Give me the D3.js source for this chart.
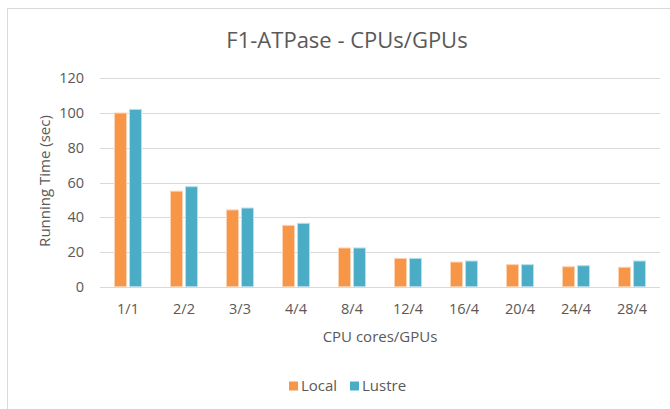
<!DOCTYPE html>
<html>
<head>
<meta charset="utf-8">
<script src="https://cdn.jsdelivr.net/npm/d3@7"></script>
<style>
  body { margin: 0; background: #fff; }
  text { font-family: "Open Sans", "Noto Sans", sans-serif; fill: #595959; }
</style>
</head>
<body>
<svg id="chart" width="670" height="409"></svg>
<script>
// chart data
const categories = ["1/1", "2/2", "3/3", "4/4", "8/4", "12/4", "16/4", "20/4", "24/4", "28/4"];
const localValues = [100, 55, 44.2, 35.3, 22.3, 16.3, 14.2, 12.7, 11.5, 11.2];
const lustreValues = [102.1, 57.6, 45.3, 36.5, 22.3, 16.3, 14.8, 12.7, 12.1, 14.8];
const seriesNames = ["Local", "Lustre"];
const yTicks = [0, 20, 40, 60, 80, 100, 120];

const svg = d3.select("#chart");
const colors = { Local: "#F79646", Lustre: "#4BACC6" };
const edge = { Local: "#fbd2b3", Lustre: "#b8e0ea" };

// outer frame
svg.append("rect")
  .attr("x", 7.5).attr("y", 8.5)
  .attr("width", 670).attr("height", 410)
  .attr("fill", "#fff")
  .attr("stroke", "#d9d9d9");

const plotLeft = 100, plotRight = 660, plotTop = 78.3, plotBottom = 286.7;

const x = d3.scaleBand().domain(categories).range([plotLeft, plotRight]);
const y = d3.scaleLinear().domain([0, 120]).range([plotBottom, plotTop]);

// gridlines
svg.append("g")
  .selectAll("line")
  .data(yTicks)
  .join("line")
  .attr("x1", plotLeft).attr("x2", plotRight)
  .attr("y1", (d) => Math.round(y(d)) + 0.5)
  .attr("y2", (d) => Math.round(y(d)) + 0.5)
  .attr("stroke", "#d9d9d9");

// y axis labels
svg.append("g")
  .selectAll("text")
  .data(yTicks)
  .join("text")
  .attr("x", 84)
  .attr("y", (d) => y(d))
  .attr("dy", "0.35em")
  .attr("text-anchor", "end")
  .attr("font-size", 14.5)
  .text((d) => d);

// bars
const rows = categories.map((c, i) => ({ cat: c, Local: localValues[i], Lustre: lustreValues[i] }));
const barW = 12;

const groups = svg.append("g")
  .selectAll("g")
  .data(rows)
  .join("g")
  .attr("transform", (d) => `translate(${x(d.cat) + x.bandwidth() / 2 - 13.5},0)`);

groups.selectAll("rect")
  .data((d) => seriesNames.map((s) => ({ s, v: d[s] })))
  .join("rect")
  .attr("x", (d) => (d.s === "Local" ? 0 : 15))
  .attr("y", (d) => y(d.v))
  .attr("width", barW)
  .attr("height", (d) => plotBottom - y(d.v))
  .attr("fill", (d) => colors[d.s])
  .attr("stroke", (d) => edge[d.s])
  .attr("stroke-width", 1);

// x axis labels
svg.append("g")
  .selectAll("text")
  .data(categories)
  .join("text")
  .attr("x", (d) => x(d) + x.bandwidth() / 2)
  .attr("y", 309)
  .attr("dy", "0.35em")
  .attr("text-anchor", "middle")
  .attr("font-size", 14.5)
  .text((d) => d);

// titles
svg.append("text")
  .attr("x", 347).attr("y", 40).attr("dy", "0.35em")
  .attr("text-anchor", "middle")
  .attr("font-size", 22)
  .text("F1-ATPase - CPUs/GPUs");

svg.append("text")
  .attr("x", 380).attr("y", 337).attr("dy", "0.35em")
  .attr("text-anchor", "middle")
  .attr("font-size", 15)
  .text("CPU cores/GPUs");

svg.append("text")
  .attr("transform", "translate(45,181) rotate(-90)")
  .attr("dy", "0.35em")
  .attr("text-anchor", "middle")
  .attr("font-size", 15)
  .text("Running Time (sec)");

// legend
const legendX = { Local: 289, Lustre: 350 };
const legend = svg.append("g")
  .selectAll("g")
  .data(seriesNames)
  .join("g")
  .attr("transform", (d) => `translate(${legendX[d]},386)`);

legend.append("rect")
  .attr("x", 0).attr("y", -4.5)
  .attr("width", 9).attr("height", 9)
  .attr("fill", (d) => colors[d]);

legend.append("text")
  .attr("x", 12).attr("dy", "0.35em")
  .attr("font-size", 15)
  .text((d) => d);
</script>
</body>
</html>
